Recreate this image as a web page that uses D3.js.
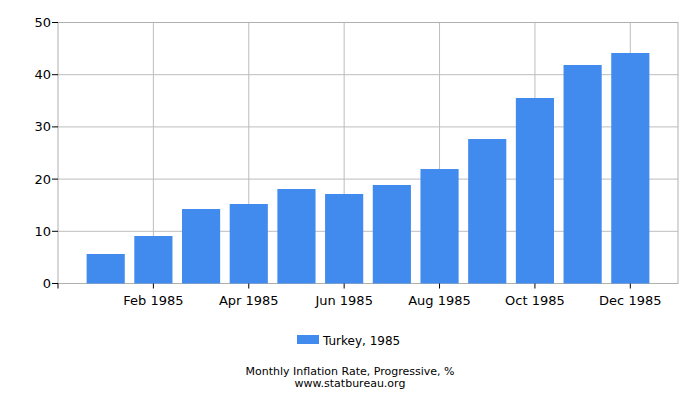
<!DOCTYPE html>
<html>
<head>
<meta charset="utf-8" />
<title>Turkey inflation 1985</title>
<script src="https://cdn.jsdelivr.net/npm/d3@7"></script>
<style>
	body { margin: 0; background: #fff; }
	text { font-family: "DejaVu Sans", sans-serif; fill: #000; }
</style>
</head>
<body>
<div id="chart"></div>
<script>
var months = ['Jan', 'Feb', 'Mar', 'Apr', 'May', 'Jun', 'Jul', 'Aug', 'Sep', 'Oct', 'Nov', 'Dec'];
var values = [5.65, 9.1, 14.27, 15.23, 18.1, 17.15, 18.87, 21.93, 27.68, 35.54, 41.86, 44.16];
var yTicks = [0, 10, 20, 30, 40, 50];
var xTickLabels = ['Feb 1985', 'Apr 1985', 'Jun 1985', 'Aug 1985', 'Oct 1985', 'Dec 1985'];
var xTickIndex = [1, 3, 5, 7, 9, 11];

(function () {
	var width = 700, height = 400;
	// plot box (note: "top" is reserved on window, so keep these local)
	var pLeft = 58, pRight = 678, pTop = 22.5, pBottom = 283.5;

	var svg = d3.select('#chart').append('svg')
		.attr('width', width)
		.attr('height', height);

	// one empty month of space on either side
	var x = d3.scaleLinear().domain([-1, 12]).range([pLeft, pRight]);
	var y = d3.scaleLinear().domain([0, 50]).range([pBottom, pTop]);
	var barW = (x(1) - x(0)) * 0.8;

	// grid
	svg.selectAll('line.hgrid').data(yTicks).enter().append('line')
		.attr('x1', pLeft).attr('x2', pRight)
		.attr('y1', function (d) { return y(d); })
		.attr('y2', function (d) { return y(d); })
		.attr('stroke', '#bdbdbd').attr('stroke-width', 1);
	svg.selectAll('line.vgrid').data(xTickIndex).enter().append('line')
		.attr('x1', function (d) { return x(d); })
		.attr('x2', function (d) { return x(d); })
		.attr('y1', pTop).attr('y2', pBottom)
		.attr('stroke', '#bdbdbd').attr('stroke-width', 1);

	// frame
	svg.append('rect')
		.attr('x', pLeft).attr('y', pTop)
		.attr('width', pRight - pLeft).attr('height', pBottom - pTop)
		.attr('fill', 'none').attr('stroke', '#b0b0b0');

	// bars
	svg.selectAll('rect.bar').data(values).enter().append('rect')
		.attr('class', 'bar')
		.attr('x', function (d, i) { return x(i) - barW / 2; })
		.attr('y', function (d) { return y(d); })
		.attr('width', barW)
		.attr('height', function (d) { return y(0) - y(d); })
		.attr('fill', '#418bef');

	// y axis ticks + labels
	svg.selectAll('line.ytick').data(yTicks).enter().append('line')
		.attr('x1', pLeft - 6).attr('x2', pLeft)
		.attr('y1', function (d) { return y(d); })
		.attr('y2', function (d) { return y(d); })
		.attr('stroke', '#000');
	svg.selectAll('text.ylab').data(yTicks).enter().append('text')
		.attr('x', pLeft - 7)
		.attr('y', function (d) { return y(d); })
		.attr('dy', '0.35em')
		.attr('text-anchor', 'end')
		.attr('font-size', 13)
		.text(function (d) { return d; });

	// x axis ticks + labels
	svg.selectAll('line.xtick').data([-1].concat(xTickIndex)).enter().append('line')
		.attr('x1', function (d) { return x(d); })
		.attr('x2', function (d) { return x(d); })
		.attr('y1', pBottom).attr('y2', pBottom + 5)
		.attr('stroke', '#000');
	svg.selectAll('text.xlab').data(xTickIndex).enter().append('text')
		.attr('x', function (d) { return x(d); })
		.attr('y', pBottom + 21)
		.attr('text-anchor', 'middle')
		.attr('font-size', 13)
		.text(function (d, i) { return xTickLabels[i]; });

	// legend
	svg.append('rect')
		.attr('x', 297).attr('y', 335)
		.attr('width', 22).attr('height', 9)
		.attr('fill', '#418bef');
	svg.append('text')
		.attr('x', 323).attr('y', 345)
		.attr('font-size', 12)
		.text('Turkey, 1985');

	// caption
	svg.append('text')
		.attr('x', 350).attr('y', 375)
		.attr('text-anchor', 'middle')
		.attr('font-size', 11)
		.text('Monthly Inflation Rate, Progressive, %');
	svg.append('text')
		.attr('x', 350).attr('y', 387)
		.attr('text-anchor', 'middle')
		.attr('font-size', 11)
		.text('www.statbureau.org');
})();
</script>
</body>
</html>
